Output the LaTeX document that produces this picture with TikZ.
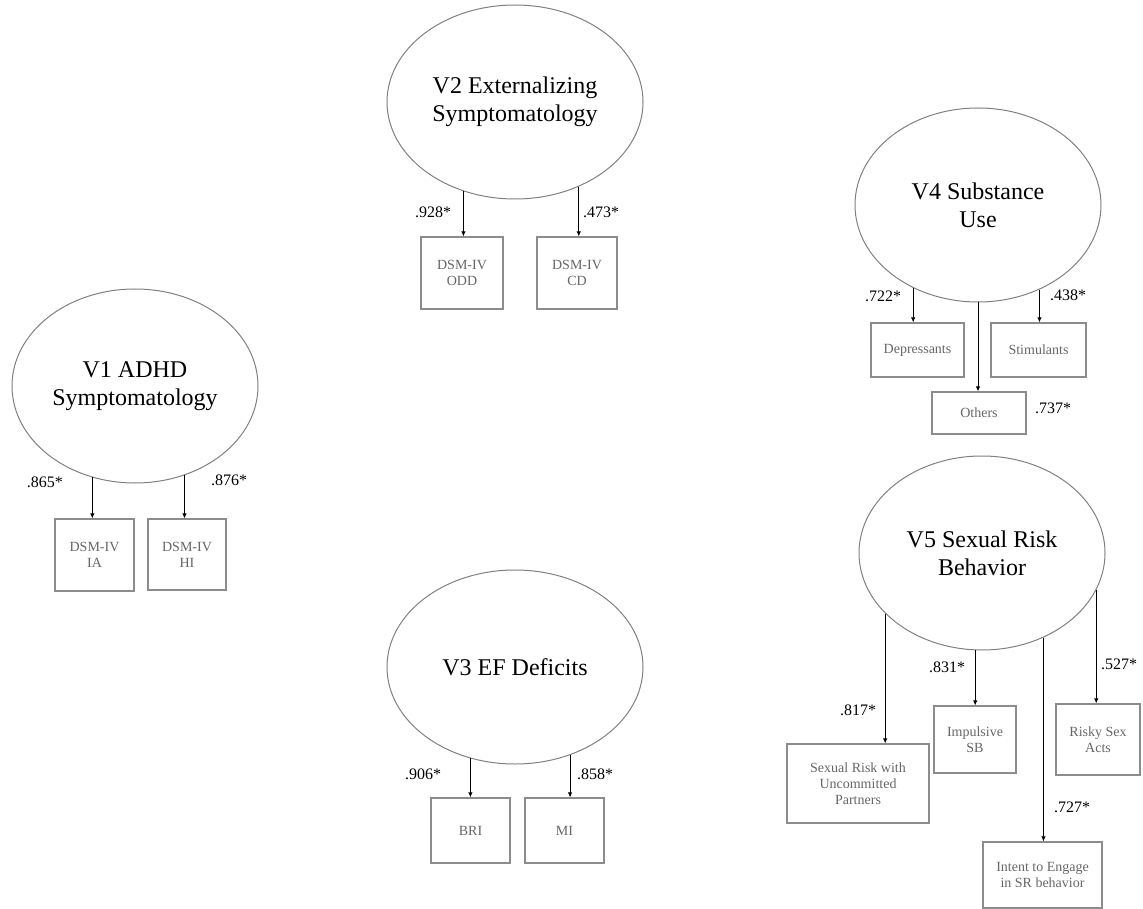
\documentclass[tikz,border=0pt]{standalone}
\usepackage{fontspec}
\setmainfont{Liberation Serif}
\usetikzlibrary{shapes.geometric}
\usetikzlibrary{arrows.meta}

\begin{document}
\begin{tikzpicture}[
    % Um ponto por pixel, eixo y para baixo
    x=1pt, y=-1pt,
    % Estilo das variáveis latentes
    latent/.style={ellipse, draw=black!50, line width=1pt, inner sep=0pt,
      minimum width=246pt, minimum height=194pt, align=center,
      font=\fontsize{24}{28}\selectfont},
    widelatent/.style={minimum width=256pt},
    % Estilo das variáveis observadas
    observed/.style={rectangle, draw=black!45, line width=1.2pt, text=black!60,
      inner sep=2pt, align=center, font=\fontsize{14}{16}\selectfont},
    % Estilo das cargas fatoriais
    loading/.style={font=\fontsize{16}{18}\selectfont, inner sep=0pt},
    % Estilo das setas
    arrowline/.style={line width=0.9pt, -{Latex[length=5pt,width=4.5pt]}}
  ]

  \useasboundingbox (0,0) rectangle (1143,909);

  % Variáveis latentes
  \node[latent] (V1) at (135,386) {V1 ADHD\\Symptomatology};
  \node[latent, widelatent] (V2) at (515,102) {V2 Externalizing\\Symptomatology};
  \node[latent, widelatent] (V3) at (515,667) {V3 EF Deficits};
  \node[latent] (V4) at (978,205) {V4 Substance\\Use};
  \node[latent] (V5) at (982,553) {V5 Sexual Risk\\Behavior};

  % Indicadores de V1
  \node[observed, minimum width=79pt, minimum height=72pt] (IA) at (94.5,555) {DSM-IV\\IA};
  \node[observed, minimum width=78pt, minimum height=71pt] (HI) at (187,554.5) {DSM-IV\\HI};
  \draw[arrowline] (V1.245) -- (V1.245 |- IA.north);
  \draw[arrowline] (V1.299) -- (V1.299 |- HI.north);
  \node[loading] (l865) at (45,482) {.865*};
  \node[loading] (l876) at (229,480) {.876*};

  % Indicadores de V2
  \node[observed, minimum width=82pt, minimum height=72pt] (ODD) at (462,273) {DSM-IV\\ODD};
  \node[observed, minimum width=80pt, minimum height=72pt] (CD) at (577,273) {DSM-IV\\CD};
  \draw[arrowline] (V2.240) -- (V2.240 |- ODD.north);
  \draw[arrowline] (V2.307) -- (V2.307 |- CD.north);
  \node[loading] (l928) at (433,212) {.928*};
  \node[loading] (l473) at (601,212) {.473*};

  % Indicadores de V3
  \node[observed, minimum width=79pt, minimum height=65pt] (BRI) at (470.5,830.5) {BRI};
  \node[observed, minimum width=79pt, minimum height=65pt] (MI) at (564.5,830.5) {MI};
  \draw[arrowline] (V3.244) -- (V3.244 |- BRI.north);
  \draw[arrowline] (V3.302) -- (V3.302 |- MI.north);
  \node[loading] (l906) at (423,774) {.906*};
  \node[loading] (l858) at (595,774) {.858*};

  % Indicadores de V4
  \node[observed, minimum width=93pt, minimum height=54pt] (Dep) at (917.5,350) {Depressants};
  \node[observed, minimum width=95pt, minimum height=54pt] (Sti) at (1038.5,350) {Stimulants};
  \node[observed, minimum width=94pt, minimum height=42pt] (Oth) at (979,413) {Others};
  \draw[arrowline] (V4.232) -- (V4.232 |- Dep.north);
  \draw[arrowline] (V4.270) -- (V4.270 |- Oth.north);
  \draw[arrowline] (V4.306) -- (V4.306 |- Sti.north);
  \node[loading] (l722) at (883,296) {.722*};
  \node[loading] (l438) at (1068,295) {.438*};
  \node[loading] (l737) at (1053,408) {.737*};

  % Indicadores de V5
  \node[observed, minimum width=142pt, minimum height=79pt] (SRU) at (858,783.5)
    {Sexual Risk with\\Uncommitted\\Partners};
  \node[observed, minimum width=82pt, minimum height=67pt] (ISB) at (975,739.5) {Impulsive\\SB};
  \node[observed, minimum width=84pt, minimum height=71pt] (RSA) at (1098,739.5) {Risky Sex\\Acts};
  \node[observed, minimum width=119pt, minimum height=66pt] (IES) at (1042.5,875)
    {Intent to Engage\\in SR behavior};
  \draw[arrowline] (V5.212) -- (V5.212 |- SRU.north);
  \draw[arrowline] (V5.266) -- (V5.266 |- ISB.north);
  \draw[arrowline] (V5.306) -- (V5.306 |- IES.north);
  \draw[arrowline] (V5.342) -- (V5.342 |- RSA.north);
  \node[loading] (l817) at (858,710) {.817*};
  \node[loading] (l831) at (947,667) {.831*};
  \node[loading] (l527) at (1119,664) {.527*};
  \node[loading] (l727) at (1072,807) {.727*};

\end{tikzpicture}
\end{document}
